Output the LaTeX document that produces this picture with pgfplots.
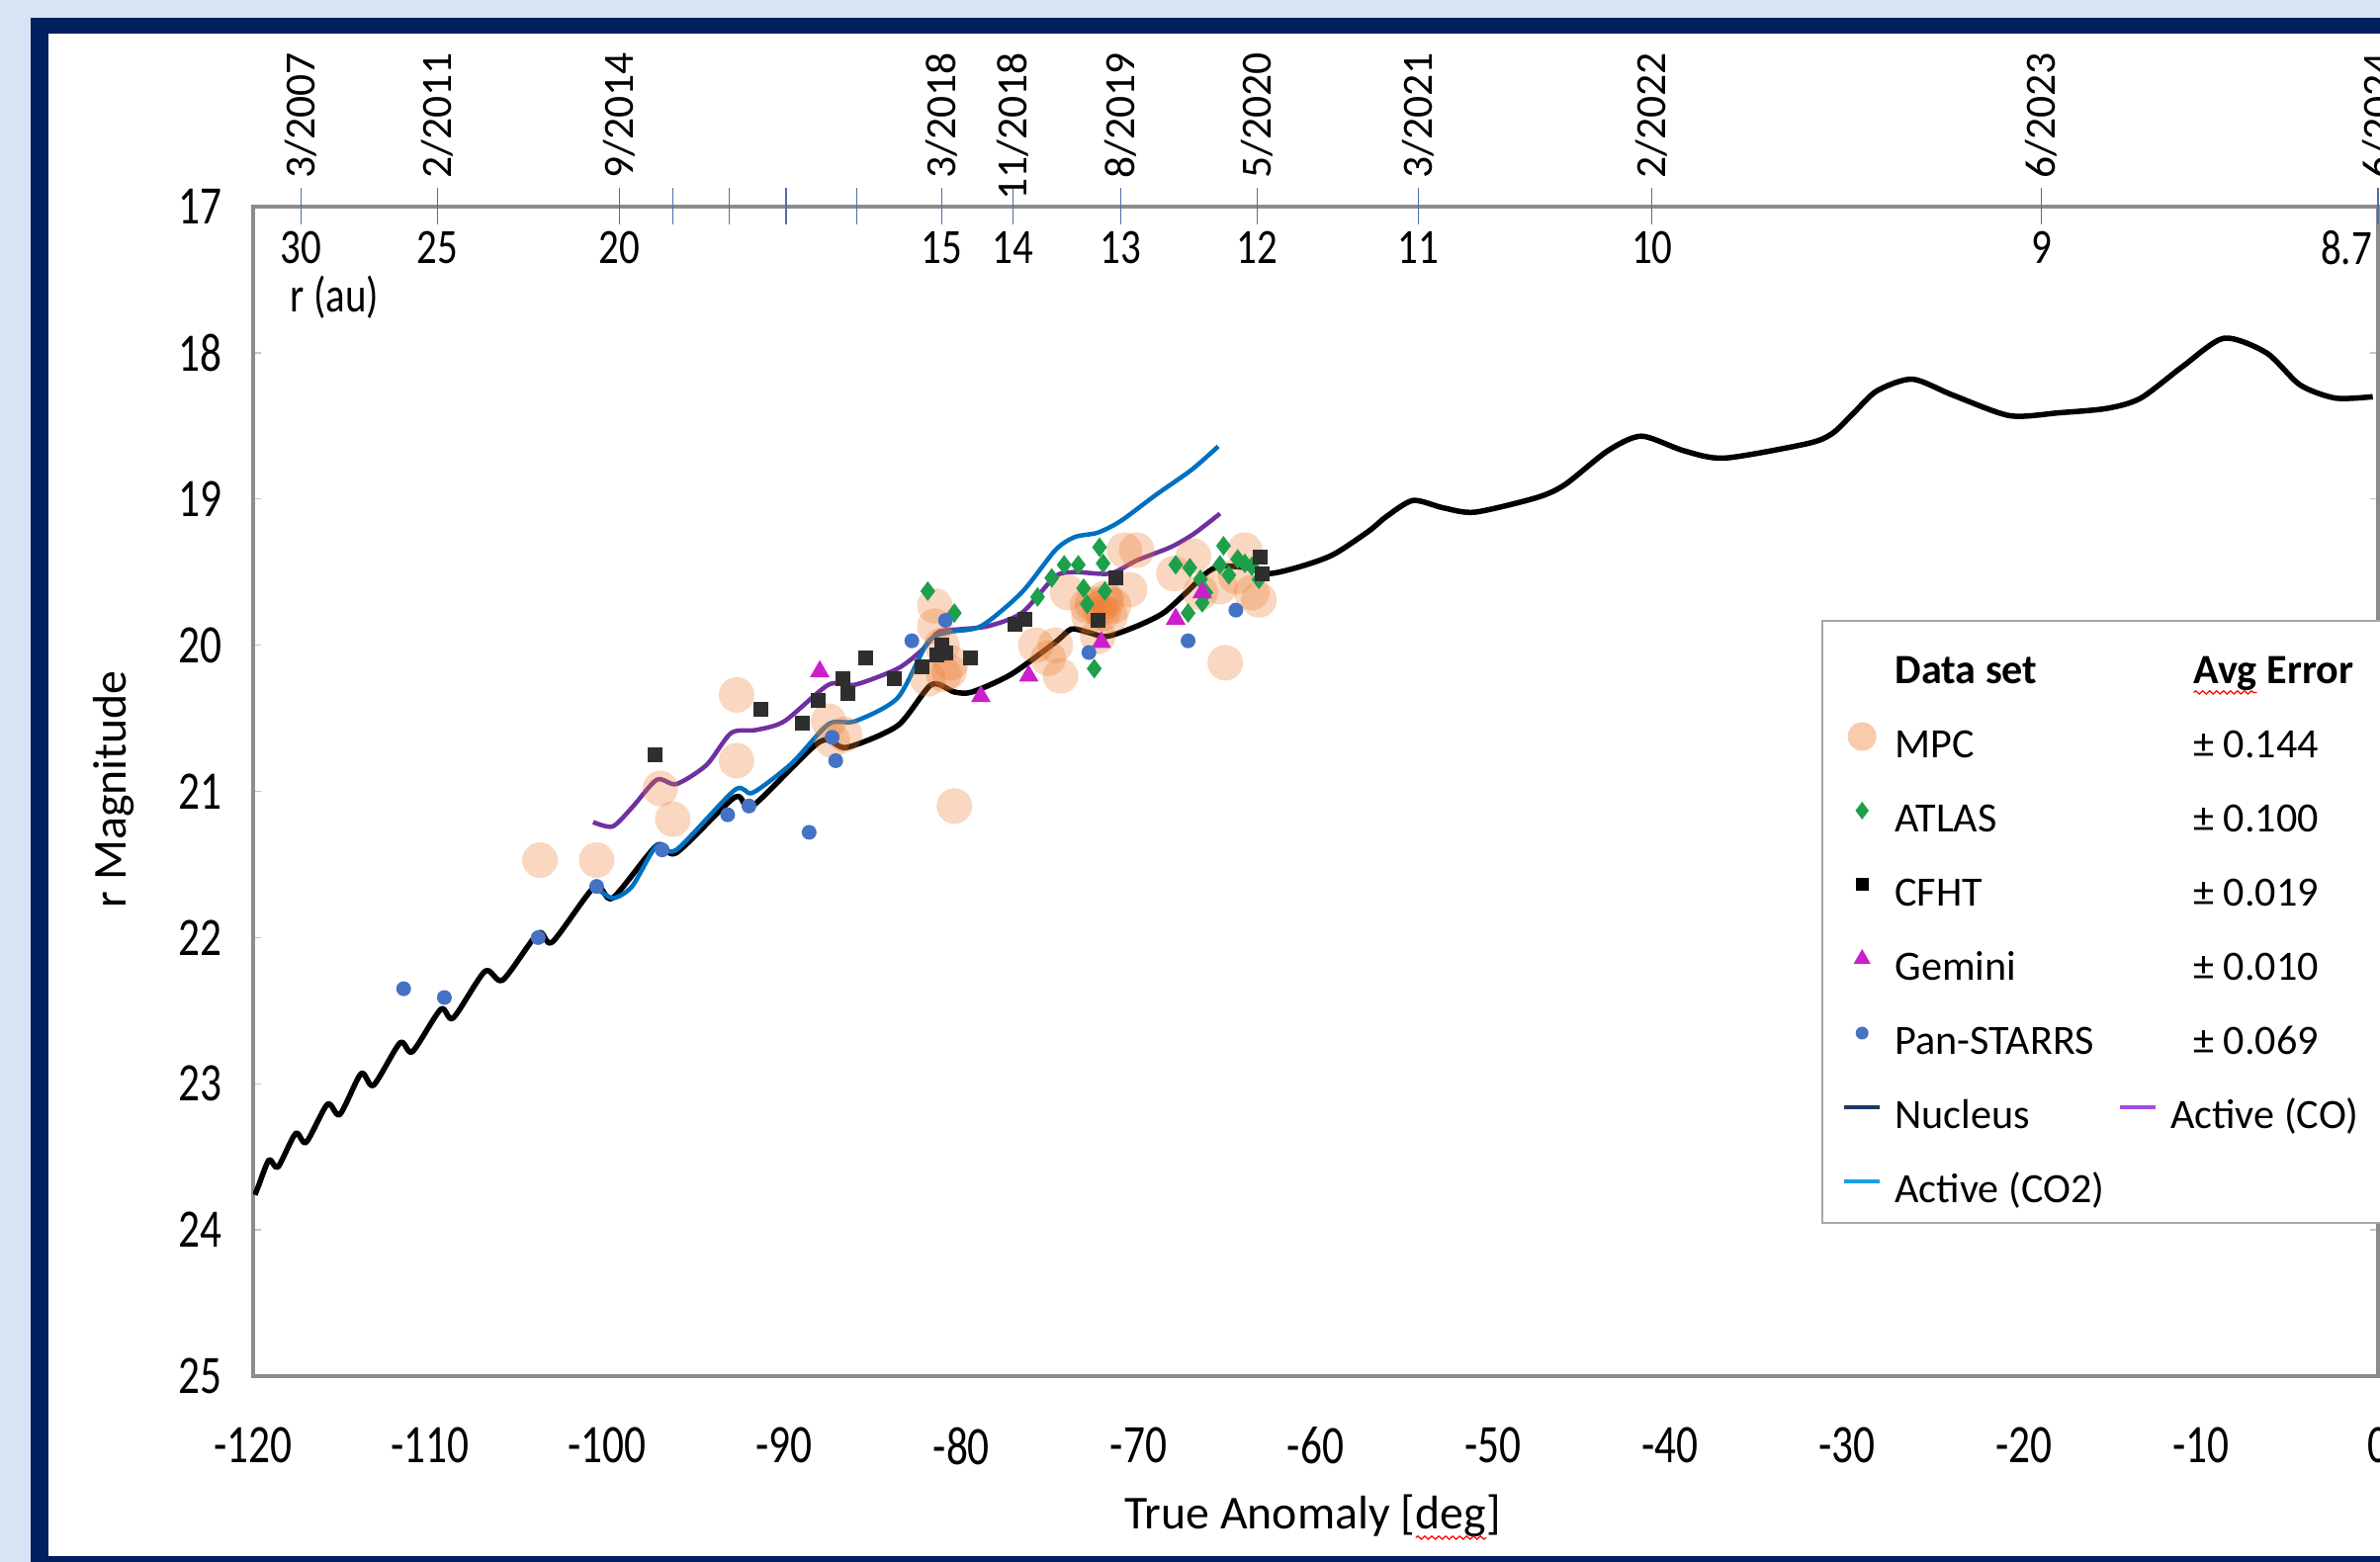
\documentclass[border=0pt]{standalone}
\usepackage{pgfplots}
\pgfplotsset{compat=1.18}
\usepackage{pgfplotstable}
\usetikzlibrary{decorations.pathmorphing}
\usepackage{fontspec}
\setmainfont{Carlito}
\newfontfamily\condA{Carlito}[FakeStretch=0.79]
\newfontfamily\condB{Carlito}[FakeStretch=0.82]
\newcommand{\redwave}[1]{\tikz[baseline=(w.base)]{\node[inner sep=0pt, outer sep=0pt, text height=, text depth=](w){#1};\draw[red, line width=0.35pt, decorate, decoration={snake, amplitude=0.45pt, segment length=2pt}] ([yshift=-2.4pt]w.base west) -- ([yshift=-2.4pt]w.base east);}}

\definecolor{bglight}{HTML}{DAE3F3}
\definecolor{navy}{HTML}{002060}
\definecolor{axgray}{HTML}{8C8C8C}
\definecolor{legray}{HTML}{A6A6A6}
\definecolor{tickblue}{HTML}{4F6FA8}
\definecolor{cpurple}{HTML}{7030A0}
\definecolor{cblue}{HTML}{0070C0}
\definecolor{mpc}{HTML}{ED7D31}
\definecolor{mpcleg}{HTML}{F8CBAD}
\definecolor{atlas}{HTML}{1EA04B}
\definecolor{cfht}{HTML}{2E2E2E}
\definecolor{gemini}{HTML}{CC1FCC}
\definecolor{pans}{HTML}{4472C4}
\definecolor{legnuc}{HTML}{1F3864}
\definecolor{legco}{HTML}{A24BE0}
\definecolor{legcotwo}{HTML}{1AA0E0}

\pgfplotstableread{
x y
-119.9 23.76
-119.7 23.70
-119.1 23.52
-118.6 23.57
-117.6 23.34
-117.0 23.40
-115.8 23.14
-115.1 23.21
-113.9 22.93
-113.2 23.01
-111.7 22.72
-111.0 22.78
-109.4 22.49
-108.7 22.55
-106.9 22.23
-105.9 22.29
-103.9 21.97
-103.1 22.03
-100.7 21.65
-99.7 21.73
-97.2 21.37
-96.1 21.42
-92.8 21.04
-91.8 21.10
-88.0 20.66
-86.5 20.70
-83.6 20.55
-81.7 20.27
-80.4 20.32
-79.4 20.32
-77.2 20.20
-74.7 19.98
-73.8 19.89
-72.9 19.91
-71.8 19.94
-70.1 19.87
-68.6 19.78
-67.3 19.64
-66.2 19.51
-65.4 19.46
-63.9 19.47
-62.6 19.51
-60.8 19.46
-59.0 19.38
-57.0 19.22
-56.0 19.12
-54.5 19.01
-52.8 19.06
-51.0 19.09
-47.5 18.99
-45.9 18.90
-43.5 18.67
-41.6 18.57
-39.2 18.67
-36.9 18.72
-32.2 18.62
-30.8 18.55
-29.6 18.41
-28.3 18.26
-26.3 18.18
-24.0 18.29
-20.8 18.43
-18.0 18.41
-15.3 18.38
-13.4 18.31
-11.0 18.09
-8.7 17.90
-6.3 18.00
-4.4 18.22
-2.4 18.31
-0.3 18.30
}\nucleus

\pgfplotstableread{
x y
-100.8 21.21
-99.7 21.24
-98.6 21.11
-97.2 20.92
-96.1 20.95
-94.4 20.82
-93.0 20.60
-91.6 20.58
-90.0 20.52
-87.5 20.27
-86.0 20.27
-83.6 20.16
-82.2 20.03
-81.3 19.91
-80.0 19.89
-78.5 19.87
-76.6 19.78
-74.7 19.53
-73.6 19.50
-71.6 19.51
-70.1 19.42
-68.2 19.33
-66.9 19.24
-65.4 19.10
}\activeco

\pgfplotstableread{
x y
-100.7 21.65
-99.7 21.73
-98.6 21.65
-97.2 21.37
-96.1 21.40
-92.8 20.99
-91.8 21.01
-89.6 20.81
-87.5 20.54
-86.0 20.52
-83.6 20.36
-81.9 19.98
-80.7 19.91
-78.9 19.87
-76.6 19.64
-74.7 19.35
-73.6 19.26
-72.3 19.23
-71.0 19.15
-69.0 18.97
-67.0 18.80
-65.5 18.64
}\activecotwo

\pgfplotstableread{
x y
-103.8 21.47
-100.6 21.47
-97.0 20.98
-96.3 21.19
-92.7 20.34
-92.7 20.79
-87.5 20.52
-87.3 20.65
-86.6 20.61
-81.5 19.73
-81.5 19.87
-80.7 20.18
-80.6 20.12
-81.0 20.20
-81.9 20.23
-81.1 20.00
-80.4 21.10
-75.8 20.00
-75.1 20.09
-74.4 20.21
-74.7 20.00
-74.0 19.64
-72.9 19.73
-71.4 19.73
-72.6 19.72
-72.0 19.78
-71.8 19.70
-72.2 19.75
-71.6 19.80
-72.8 19.80
-71.9 19.68
-72.3 19.94
-70.8 19.35
-70.1 19.35
-70.5 19.62
-68.0 19.51
-66.9 19.39
-66.5 19.64
-65.4 19.60
-64.0 19.35
-63.6 19.64
-63.2 19.69
-64.5 19.53
-65.1 20.12
}\mpcdata

\pgfplotstableread{
x y
-81.9 19.63
-80.4 19.78
-75.7 19.67
-74.9 19.54
-74.2 19.45
-73.4 19.45
-73.1 19.61
-72.9 19.72
-72.2 19.33
-72.0 19.44
-71.9 19.63
-72.5 20.16
-67.9 19.45
-67.1 19.47
-66.5 19.55
-66.2 19.64
-65.4 19.45
-65.2 19.32
-64.9 19.52
-64.4 19.41
-64.0 19.44
-63.6 19.46
-63.2 19.55
-67.2 19.78
-66.4 19.71
}\atlasdata

\pgfplotstableread{
x y
-97.3 20.75
-91.3 20.44
-89.0 20.53
-88.1 20.38
-86.7 20.23
-86.4 20.33
-85.4 20.09
-83.8 20.23
-82.2 20.15
-81.4 20.07
-81.1 20.00
-80.9 20.05
-79.5 20.09
-77.0 19.86
-76.4 19.82
-72.3 19.83
-71.3 19.54
-63.1 19.40
-63.0 19.51
}\cfhtdata

\pgfplotstableread{
x y
-88.0 20.18
-78.9 20.35
-76.2 20.21
-72.1 19.98
-67.9 19.82
-66.4 19.64
}\geminidata

\pgfplotstableread{
x y
-111.5 22.35
-109.2 22.41
-103.9 22.00
-100.6 21.65
-96.9 21.40
-93.2 21.16
-92.0 21.10
-88.6 21.28
-87.3 20.63
-87.1 20.79
-82.8 19.97
-80.9 19.83
-72.8 20.05
-67.2 19.97
-64.5 19.76
}\pansdata

\pgfplotsset{
  mylegline/.style={legend image code/.code={\draw[##1, line width=0.045cm] (0cm,0cm) -- (0.36cm,0cm);}},
  mylegmark/.style={legend image code/.code={\draw[##1, mark repeat=2, mark phase=2] plot coordinates {(0cm,0cm) (0.18cm,0cm) (0.36cm,0cm)};}},
}

\begin{document}
\begin{tikzpicture}[x=1cm,y=1cm]
\fill[bglight] (0,0) rectangle (24.07,15.80);
\fill[navy] (0.31,-1) rectangle (26,15.62);
\fill[white] (0.49,0.06) rectangle (25.5,15.46);

\begin{axis}[
  at={(2.56cm,1.88cm)}, anchor=south west,
  scale only axis, width=21.49cm, height=11.83cm,
  xmin=-120, xmax=0, ymin=17, ymax=25, y dir=reverse,
  axis line style={draw=axgray, line width=0.033cm},
  xtick={-120,-110,-100,-90,-80,-70,-60,-50,-40,-30,-20,-10,0},
  xticklabels={-120,-110,-100,-90,-80,-70,-60,-50,-40,-30,-20,-10,0},
  ytick={17,18,19,20,21,22,23,24,25},
  yticklabels={17,18,19,20,21,22,23,24,25},
  tick align=inside,
  xtick style={draw=none},
  ytick style={draw=gray!45, line width=0.4pt},
  major tick length=0.08cm,
  xticklabel shift=0.51cm,
  yticklabel shift=0.31cm,
  xticklabel style={anchor=north, inner sep=0pt, font=\condA\fontsize{15.6}{18}\selectfont},
  yticklabel style={anchor=east, inner sep=0pt, font=\condA\fontsize{15.6}{18}\selectfont},
  xlabel={True Anomaly [\redwave{deg}]},
  ylabel={r Magnitude},
  xlabel style={at={(axis description cs:0.4988,-0.1209)}, anchor=center, font=\fontsize{13.6}{16}\selectfont},
  ylabel style={at={(axis description cs:-0.0656,0.502)}, anchor=center, font=\fontsize{13.6}{16}\selectfont},
  clip=true,
  legend columns=2,
  legend cell align=left,
  legend style={at={(axis description cs:0.738,0.6467)}, anchor=north west,
    draw=legray, line width=0.02cm, fill=white,
    font=\fontsize{12}{14}\selectfont,
    inner xsep=0.2cm, inner ysep=0.2cm,
    row sep=0.31cm, column sep=0.13cm,
    nodes={inner sep=0pt, text height=0.44cm, text depth=0cm},
    /tikz/every even column/.append style={column sep=0.13cm}},
]
% data
\addplot[forget plot, only marks, mark=*, mark size=0.18cm, color=mpc, mark options={fill=mpc, fill opacity=0.3, draw opacity=0}] table {\mpcdata};
\addplot[forget plot, black, line width=0.055cm, line join=round, smooth, tension=0.45] table {\nucleus};
\addplot[forget plot, cpurple, line width=0.045cm, line join=round, smooth, tension=0.45] table {\activeco};
\addplot[forget plot, cblue, line width=0.045cm, line join=round, smooth, tension=0.45] table {\activecotwo};
\addplot[forget plot, only marks, mark=diamond*, mark size=0.1cm, color=atlas, mark options={fill=atlas, draw opacity=0}] table {\atlasdata};
\addplot[forget plot, only marks, mark=square*, mark size=0.075cm, color=cfht, mark options={fill=cfht, draw opacity=0}] table {\cfhtdata};
\addplot[forget plot, only marks, mark=triangle*, mark size=0.115cm, color=gemini, mark options={fill=gemini, draw opacity=0}] table {\geminidata};
\addplot[forget plot, only marks, mark=*, mark size=0.075cm, color=pans, mark options={fill=pans, draw opacity=0}] table {\pansdata};

% r (au) labels under top axis
\node[font=\condB\fontsize{14.2}{16}\selectfont] at (axis cs:-117.3,17.28) {30};
\node[font=\condB\fontsize{14.2}{16}\selectfont] at (axis cs:-109.6,17.28) {25};
\node[font=\condB\fontsize{14.2}{16}\selectfont] at (axis cs:-99.3,17.28) {20};
\node[font=\condB\fontsize{14.2}{16}\selectfont] at (axis cs:-81.1,17.28) {15};
\node[font=\condB\fontsize{14.2}{16}\selectfont] at (axis cs:-77.1,17.28) {14};
\node[font=\condB\fontsize{14.2}{16}\selectfont] at (axis cs:-71.0,17.28) {13};
\node[font=\condB\fontsize{14.2}{16}\selectfont] at (axis cs:-63.3,17.28) {12};
\node[font=\condB\fontsize{14.2}{16}\selectfont] at (axis cs:-54.2,17.28) {11};
\node[font=\condB\fontsize{14.2}{16}\selectfont] at (axis cs:-41.0,17.28) {10};
\node[font=\condB\fontsize{14.2}{16}\selectfont] at (axis cs:-19.0,17.28) {9};
\node[font=\condB\fontsize{14.2}{16}\selectfont, anchor=east, inner sep=0pt] at (axis cs:-0.3,17.28) {8.7};
\node[font=\condB\fontsize{14.2}{16}\selectfont] at (axis cs:-115.4,17.62) {r (au)};

% legend
\addlegendimage{empty legend}\addlegendentry{\textbf{Data set}}
\addlegendimage{empty legend}\addlegendentry{\hspace{0.23cm}\textbf{\redwave{Avg} Error}\rule{0.8cm}{0pt}}
\addlegendimage{mylegmark, only marks, mark=*, mark size=0.145cm, color=mpcleg, mark options={fill=mpcleg, draw opacity=0}}\addlegendentry{MPC}
\addlegendimage{empty legend}\addlegendentry{\hspace{0.23cm}± 0.144}
\addlegendimage{mylegmark, only marks, mark=diamond*, mark size=0.09cm, color=atlas, mark options={fill=atlas, draw opacity=0}}\addlegendentry{ATLAS}
\addlegendimage{empty legend}\addlegendentry{\hspace{0.23cm}± 0.100}
\addlegendimage{mylegmark, only marks, mark=square*, mark size=0.065cm, color=black, mark options={fill=black, draw opacity=0}}\addlegendentry{CFHT}
\addlegendimage{empty legend}\addlegendentry{\hspace{0.23cm}± 0.019}
\addlegendimage{mylegmark, only marks, mark=triangle*, mark size=0.1cm, color=gemini, mark options={fill=gemini, draw opacity=0}}\addlegendentry{Gemini}
\addlegendimage{empty legend}\addlegendentry{\hspace{0.23cm}± 0.010}
\addlegendimage{mylegmark, only marks, mark=*, mark size=0.065cm, color=pans, mark options={fill=pans, draw opacity=0}}\addlegendentry{Pan-STARRS}
\addlegendimage{empty legend}\addlegendentry{\hspace{0.23cm}± 0.069}
\addlegendimage{mylegline, legnuc}\addlegendentry{Nucleus}
\addlegendimage{mylegline, legco}\addlegendentry{Active (CO)}
\addlegendimage{mylegline, legcotwo}\addlegendentry{Active (CO2)}
\end{axis}

% top date axis
\begin{axis}[
  at={(2.56cm,1.88cm)}, anchor=south west,
  scale only axis, width=21.49cm, height=11.83cm,
  xmin=-120, xmax=0, ymin=0, ymax=1,
  axis x line*=top, axis y line=none,
  axis line style={draw=none},
  xtick={-117.3,-109.6,-99.3,-96.3,-93.1,-89.9,-85.9,-81.1,-77.1,-71.0,-63.3,-54.2,-41.0,-19.0,0},
  xticklabels={3/2007,2/2011,9/2014,,,,,3/2018,11/2018,8/2019,5/2020,3/2021,2/2022,6/2023,6/2024},
  tick align=center, major tick length=0.37cm,
  xtick style={draw=tickblue, line width=0.012cm},
  xticklabel shift=1.38cm,
  xticklabel style={rotate=90, anchor=east, inner sep=0pt, font=\fontsize{12.4}{14}\selectfont},
]
\addplot[draw=none, forget plot] coordinates {(-120,0) (0,1)};
\end{axis}

\pgfresetboundingbox
\path[use as bounding box] (0,0) rectangle (24.07,15.80);
\end{tikzpicture}
\end{document}
